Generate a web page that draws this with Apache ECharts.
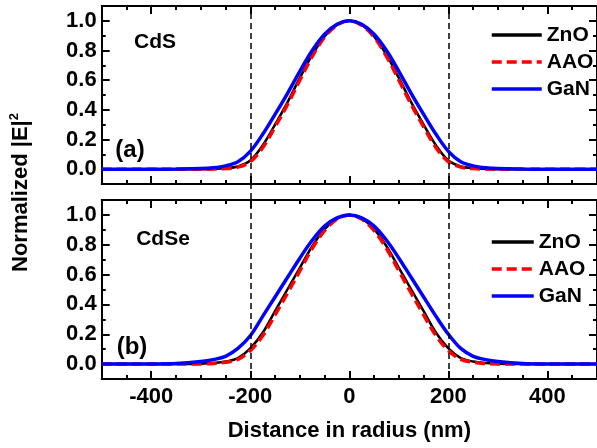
<!DOCTYPE html>
<html>
<head>
<meta charset="utf-8">
<script src="https://cdn.jsdelivr.net/npm/echarts@6/dist/echarts.min.js"></script>
<style>
  html, body { margin: 0; padding: 0; background: #fff; }
  #chart { width: 597px; height: 448px; }
</style>
</head>
<body>
<div id="chart"></div>
<script>
// Radial positions (nm) where the field profiles are sampled
const radius = [-500,-450,-400,-350,-300,-275,-250,-225,-200,-175,-150,-125,-100,-75,-50,-25,0,
                25,50,75,100,125,150,175,200,225,250,275,300,350,400,450,500];

// (a) CdS core: normalized |E|^2 for each shell/substrate material
const cdsZnO = [0,0,0,0,0,0.002,0.006,0.018,0.058,0.16,0.30,0.45,0.615,0.77,0.895,0.972,1.0,
                0.972,0.895,0.77,0.615,0.45,0.30,0.16,0.058,0.018,0.006,0.002,0,0,0,0,0];
const cdsAAO = [0,0,0,0,0,0.001,0.004,0.014,0.05,0.145,0.285,0.435,0.60,0.76,0.89,0.97,1.0,
                0.97,0.89,0.76,0.60,0.435,0.285,0.145,0.05,0.014,0.004,0.001,0,0,0,0,0];
const cdsGaN = [0,0,0,0.001,0.004,0.009,0.022,0.05,0.12,0.235,0.37,0.51,0.66,0.80,0.91,0.977,1.0,
                0.977,0.91,0.80,0.66,0.51,0.37,0.235,0.12,0.05,0.022,0.009,0.004,0.001,0,0,0];

// (b) CdSe core
const cdseZnO = [0,0,0,0,0.003,0.007,0.017,0.04,0.105,0.21,0.355,0.50,0.645,0.79,0.905,0.975,1.0,
                 0.975,0.905,0.79,0.645,0.50,0.355,0.21,0.105,0.04,0.017,0.007,0.003,0,0,0,0];
const cdseAAO = [0,0,0,0,0.001,0.004,0.012,0.032,0.09,0.19,0.33,0.475,0.625,0.775,0.895,0.972,1.0,
                 0.972,0.895,0.775,0.625,0.475,0.33,0.19,0.09,0.032,0.012,0.004,0.001,0,0,0,0];
const cdseGaN = [0,0,0.001,0.004,0.017,0.03,0.052,0.105,0.19,0.32,0.45,0.58,0.71,0.83,0.925,0.98,1.0,
                 0.98,0.925,0.83,0.71,0.58,0.45,0.32,0.20,0.105,0.052,0.03,0.017,0.004,0.001,0,0];

// Axis ranges and ticks
const xMin = -500, xMax = 500;
const yMin = -0.1, yMax = 1.1;
const xMajor = [-400, -200, 0, 200, 400];
const yMajor = [0, 0.2, 0.4, 0.6, 0.8, 1.0];
const wireEdges = [-200, 200];
const materials = ['ZnO', 'AAO', 'GaN'];

const FONT = '"Liberation Sans", Arial, Helvetica, sans-serif';
const BLACK = '#000';

const lineStyles = {
  ZnO: { color: '#000000', width: 2.5, type: 'solid' },
  AAO: { color: '#ff0000', width: 3.5, type: [10, 5] },
  GaN: { color: '#0000ff', width: 3.5, type: 'solid' }
};

const GRIDS = [
  { left: 101.7, top: 6, width: 500, height: 178 },
  { left: 101.7, top: 200, width: 500, height: 179 },
  { left: 101.7, top: 6, width: 500, height: 373 }   // full-height frame for the wire-edge markers
];

function xAxesFor(g, withLabels) {
  const base = {
    gridIndex: g, type: 'value', min: xMin, max: xMax,
    splitLine: { show: false }, minorSplitLine: { show: false }
  };
  const major = pos => Object.assign({}, base, {
    position: pos,
    axisLine: { show: true, onZero: false, lineStyle: { color: BLACK, width: 2 } },
    axisTick: { show: true, inside: true, length: 8, customValues: xMajor, lineStyle: { color: BLACK, width: 2 } },
    axisLabel: {
      show: withLabels && pos === 'bottom', customValues: xMajor, margin: 7,
      color: BLACK, fontFamily: FONT, fontWeight: 'bold', fontSize: 22,
      formatter: v => String(Math.round(v))
    }
  });
  const minor = pos => Object.assign({}, base, {
    position: pos, interval: 50,
    axisLine: { show: false, onZero: false },
    axisTick: { show: true, inside: true, length: 4, lineStyle: { color: BLACK, width: 2 } },
    axisLabel: { show: false }
  });
  const axes = [major('bottom'), minor('bottom'), major('top'), minor('top')];
  if (withLabels) {
    Object.assign(axes[0], {
      name: 'Distance in radius (nm)', nameLocation: 'middle', nameGap: 41,
      nameTextStyle: { color: BLACK, fontFamily: FONT, fontWeight: 'bold', fontSize: 22 }
    });
  }
  return axes;
}

function yAxesFor(g) {
  const base = {
    gridIndex: g, type: 'value', min: yMin, max: yMax,
    splitLine: { show: false }, minorSplitLine: { show: false }
  };
  const major = pos => Object.assign({}, base, {
    position: pos,
    axisLine: { show: true, onZero: false, lineStyle: { color: BLACK, width: 2 } },
    axisTick: { show: true, inside: true, length: 8, customValues: yMajor, lineStyle: { color: BLACK, width: 2 } },
    axisLabel: {
      show: pos === 'left', customValues: yMajor, margin: 5,
      color: BLACK, fontFamily: FONT, fontWeight: 'bold', fontSize: 22,
      formatter: v => v.toFixed(1)
    }
  });
  const minor = pos => Object.assign({}, base, {
    position: pos, interval: 0.1,
    axisLine: { show: false, onZero: false },
    axisTick: { show: true, inside: true, length: 4, lineStyle: { color: BLACK, width: 2 } },
    axisLabel: { show: false }
  });
  return [major('left'), minor('left'), major('right'), minor('right')];
}

const xAxis = [].concat(
  xAxesFor(0, false),
  xAxesFor(1, true),
  [{ gridIndex: 2, type: 'value', min: xMin, max: xMax, show: false }]
);

const yAxis = [].concat(
  yAxesFor(0),
  yAxesFor(1),
  [{
    gridIndex: 2, type: 'value', min: 0, max: 1,
    axisLine: { show: false }, axisTick: { show: false }, axisLabel: { show: false },
    splitLine: { show: false },
    name: '{t|Normalized |E|}{s|2}', nameLocation: 'middle', nameRotate: 90, nameGap: 68,
    nameTextStyle: {
      color: BLACK, fontFamily: FONT, fontWeight: 'bold', fontSize: 22,
      rich: {
        t: { color: BLACK, fontFamily: FONT, fontWeight: 'bold', fontSize: 22, lineHeight: 26 },
        s: { color: BLACK, fontFamily: FONT, fontWeight: 'bold', fontSize: 13, lineHeight: 26, verticalAlign: 'top' }
      }
    }
  }]
);

function pairs(values) {
  return radius.map((r, i) => [r, values[i]]);
}

function profileSeries(panel, name, values) {
  return {
    name: name, type: 'line',
    xAxisIndex: panel * 4, yAxisIndex: panel * 4,
    data: pairs(values),
    smooth: 0.35, symbol: 'none', showSymbol: false,
    lineStyle: lineStyles[name],
    itemStyle: { color: lineStyles[name].color },
    z: 3, silent: true, animation: false
  };
}

const series = [
  {
    name: 'edges', type: 'line', xAxisIndex: 8, yAxisIndex: 8, data: [],
    silent: true, animation: false, z: 1,
    markLine: {
      silent: true, symbol: 'none', animation: false,
      label: { show: false },
      lineStyle: { color: BLACK, width: 1.5, type: [6, 4] },
      data: wireEdges.map(v => ({ xAxis: v }))
    }
  },
  profileSeries(0, 'ZnO', cdsZnO),
  profileSeries(0, 'AAO', cdsAAO),
  profileSeries(0, 'GaN', cdsGaN),
  profileSeries(1, 'ZnO', cdseZnO),
  profileSeries(1, 'AAO', cdseAAO),
  profileSeries(1, 'GaN', cdseGaN)
];

function legendAt(top, itemWidth) {
  return {
    data: materials, orient: 'vertical', left: 490, top: top,
    padding: 0, itemGap: 5, itemWidth: itemWidth, itemHeight: 10,
    selectedMode: false,
    itemStyle: { opacity: 0 },
    lineStyle: { width: 3.5 },
    textStyle: { color: BLACK, fontFamily: FONT, fontWeight: 'bold', fontSize: 21, lineHeight: 22 }
  };
}

const labelStyle = (size) => ({ fill: BLACK, font: 'bold ' + size + 'px ' + FONT, textAlign: 'center', textVerticalAlign: 'middle' });

const option = {
  backgroundColor: '#fff',
  animation: false,
  grid: GRIDS,
  xAxis: xAxis,
  yAxis: yAxis,
  legend: [legendAt(24, 50), legendAt(231, 42)],
  graphic: [
    { type: 'text', x: 155, y: 42, style: Object.assign({ text: 'CdS' }, labelStyle(21)) },
    { type: 'text', x: 130, y: 150, style: Object.assign({ text: '(a)' }, labelStyle(24)) },
    { type: 'text', x: 163, y: 239, style: Object.assign({ text: 'CdSe' }, labelStyle(21)) },
    { type: 'text', x: 132, y: 347, style: Object.assign({ text: '(b)' }, labelStyle(24)) }
  ],
  series: series
};

const chart = echarts.init(document.getElementById('chart'), null, { renderer: 'canvas' });
chart.setOption(option);
</script>
</body>
</html>
